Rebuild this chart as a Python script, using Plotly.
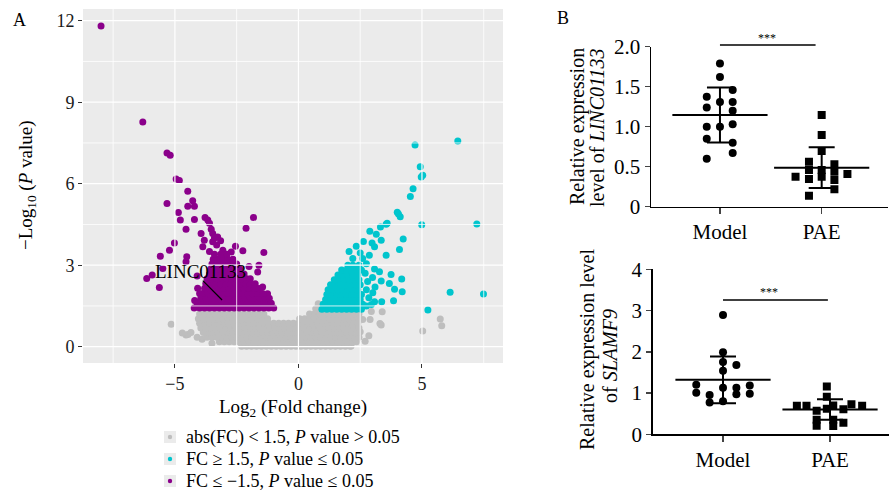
import plotly.graph_objects as go

W, H = 892, 492
FONT = "Liberation Serif"

# ---------------- Volcano data (log2 FC, -log10 P) ----------------
# sparse (individually readable) points
down_sparse = [(-7.99, 11.8), (-6.3, 8.27), (-5.32, 7.13), (-5.19, 7.05), (-4.95, 6.17), (-4.82, 6.12),
               (-4.48, 5.72), (-5.32, 5.27), (-4.28, 5.37), (-4.21, 5.17), (-4.48, 5.17), (-4.86, 4.94),
               (-4.21, 4.68), (-4.78, 4.66), (-3.78, 4.76), (-3.67, 4.66), (-3.6, 4.54), (-4.55, 4.32),
               (-1.82, 4.76), (-2.12, 4.36), (-5.02, 3.82), (-3.53, 4.32), (-3.47, 4.17), (-3.94, 4.17),
               (-3.81, 3.92), (-3.87, 3.68), (-3.47, 3.86), (-3.27, 4.04), (-3.31, 3.74), (-3.06, 3.55),
               (-2.93, 3.37), (-2.72, 3.49), (-5.22, 3.55), (-5.59, 3.33), (-5.49, 2.88), (-6.14, 2.51),
               (-5.92, 2.64), (-5.63, 2.18), (-4.52, 3.31), (-4.55, 3.13), (-2.25, 3.53), (-1.4, 3.47),
               (-4.08, 2.15), (-4.0, 1.96), (-3.4, 4.0), (-3.15, 3.9), (-3.6, 3.5), (-4.1, 2.6),
               (-4.2, 1.7), (-2.55, 3.7), (-1.65, 2.75), (-1.45, 2.2), (-1.25, 1.95), (-1.6, 3.0),
               (-2.0, 2.95)]
down_dense_rows = [
    (1.42, [-4.22, -4.0, -3.8, -3.6, -3.4, -3.2, -3.0, -2.8, -2.6, -2.4, -2.2, -2.0, -1.8, -1.6, -1.4, -1.2, -1.0]),
    (1.6, [-4.1, -3.9, -3.7, -3.5, -3.3, -3.1, -2.9, -2.7, -2.5, -2.3, -2.1, -1.9, -1.7, -1.5, -1.3, -1.1]),
    (1.78, [-3.95, -3.75, -3.55, -3.35, -3.15, -2.95, -2.75, -2.55, -2.35, -2.15, -1.95, -1.75, -1.55, -1.35, -1.18]),
    (1.96, [-3.85, -3.65, -3.45, -3.25, -3.05, -2.85, -2.65, -2.45, -2.25, -2.05, -1.85, -1.65, -1.45]),
    (2.14, [-3.8, -3.6, -3.4, -3.2, -3.0, -2.8, -2.6, -2.4, -2.2, -2.0, -1.8, -1.6]),
    (2.32, [-3.75, -3.55, -3.35, -3.15, -2.95, -2.75, -2.55, -2.35, -2.15, -1.95, -1.75]),
    (2.5, [-3.7, -3.5, -3.3, -3.1, -2.9, -2.7, -2.5, -2.3, -2.1, -1.95]),
    (2.68, [-3.6, -3.4, -3.2, -3.0, -2.8, -2.6, -2.4, -2.2]),
    (2.86, [-3.55, -3.35, -3.15, -2.95, -2.75, -2.55, -2.38]),
    (3.04, [-3.5, -3.3, -3.1, -2.9, -2.7, -2.5]),
    (3.22, [-3.45, -3.25, -3.05, -2.85, -2.65]),
    (3.4, [-3.4, -3.15, -2.9]),
]

up_sparse = [(6.45, 7.57), (4.72, 7.42), (4.93, 6.62), (4.97, 6.25), (5.03, 6.31), (4.64, 5.81),
             (4.53, 5.53), (4.0, 4.95), (4.05, 4.88), (4.12, 4.78), (3.59, 4.54), (3.55, 4.51),
             (3.32, 4.41), (4.99, 4.49), (7.22, 4.52), (2.89, 4.25), (3.15, 4.14), (2.63, 3.87),
             (2.98, 3.82), (3.35, 3.92), (4.24, 3.96), (2.34, 3.7), (3.08, 3.68), (4.09, 3.58),
             (3.55, 3.37), (2.87, 3.37), (3.08, 2.86), (3.28, 2.76), (3.75, 2.66), (4.18, 2.49),
             (3.35, 2.42), (3.68, 2.33), (3.89, 2.11), (4.2, 2.02), (3.01, 1.99), (3.37, 1.65),
             (3.08, 1.65), (3.85, 1.69), (6.14, 2.0), (7.49, 1.94), (5.24, 1.35), (2.6, 3.25),
             (2.75, 3.05), (2.5, 3.45), (2.7, 2.7), (2.8, 2.4), (2.75, 2.1), (2.85, 1.8),
             (2.75, 1.5), (3.0, 2.55), (3.1, 2.2), (2.95, 1.55), (2.2, 3.25), (2.05, 3.5)]
up_dense_rows = [
    (1.38, [0.95, 1.15, 1.35, 1.55, 1.75, 1.95, 2.15, 2.35, 2.55]),
    (1.56, [1.0, 1.2, 1.4, 1.6, 1.8, 2.0, 2.2, 2.4, 2.6]),
    (1.74, [1.1, 1.3, 1.5, 1.7, 1.9, 2.1, 2.3, 2.5]),
    (1.92, [1.15, 1.35, 1.55, 1.75, 1.95, 2.15, 2.35, 2.55]),
    (2.1, [1.2, 1.4, 1.6, 1.8, 2.0, 2.2, 2.4]),
    (2.28, [1.3, 1.5, 1.7, 1.9, 2.1, 2.3, 2.5]),
    (2.46, [1.45, 1.65, 1.85, 2.05, 2.25, 2.45]),
    (2.64, [1.6, 1.8, 2.0, 2.2, 2.4]),
    (2.82, [1.75, 1.95, 2.15, 2.35, 2.55]),
    (3.0, [2.0, 2.2, 2.45]),
]

ns_sparse = [(-5.15, 0.83), (-4.55, 0.43), (-4.47, 0.45), (-3.9, 0.27), (-3.5, 0.13), (-4.1, 0.35),
             (3.39, 1.29), (2.6, 1.0), (2.9, 1.0), (3.35, 0.8), (3.3, 0.85), (2.5, 0.55), (2.85, 0.4),
             (5.03, 0.58), (5.74, 1.02), (5.8, 0.77), (2.13, 0.03), (1.95, 0.25), (2.7, 0.2),
             (2.95, 1.3), (-4.7, 0.5), (-4.35, 0.52)]
ns_dense_rows = [
    (0.02, [-2.3, -2.1, -1.9, -1.7, -1.5, -1.3, -1.1, -0.9, -0.7, -0.5, -0.3, -0.1, 0.1, 0.3, 0.5, 0.7, 0.9,
            1.1, 1.3, 1.5, 1.7, 1.9, 2.1]),
    (0.18, [-3.2, -3.0, -2.8, -2.6, -2.4, -2.2, -2.0, -1.8, -1.6, -1.4, -1.2, -1.0, -0.8, -0.6, -0.4, -0.2,
            0.0, 0.2, 0.4, 0.6, 0.8, 1.0, 1.2, 1.4, 1.6, 1.8, 2.0, 2.2, 2.35]),
    (0.35, [-3.7, -3.5, -3.3, -3.1, -2.9, -2.7, -2.5, -2.3, -2.1, -1.9, -1.7, -1.5, -1.3, -1.1, -0.9, -0.7,
            -0.5, -0.3, -0.1, 0.1, 0.3, 0.5, 0.7, 0.9, 1.1, 1.3, 1.5, 1.7, 1.9, 2.1, 2.3, 2.45]),
    (0.52, [-3.85, -3.65, -3.45, -3.25, -3.05, -2.85, -2.65, -2.45, -2.25, -2.05, -1.85, -1.65, -1.45,
            -1.25, -1.05, -0.85, -0.65, -0.45, -0.25, -0.05, 0.15, 0.35, 0.55, 0.75, 0.95, 1.15, 1.35,
            1.55, 1.75, 1.95, 2.15, 2.4]),
    (0.69, [-3.95, -3.75, -3.55, -3.35, -3.15, -2.95, -2.75, -2.55, -2.35, -2.15, -1.95, -1.75, -1.55,
            -1.35, -1.15, -0.95, -0.75, -0.55, -0.35, -0.15, 0.05, 0.25, 0.45, 0.65, 0.85, 1.05, 1.25,
            1.45, 1.65, 1.85, 2.05, 2.25, 2.45]),
    (0.86, [-4.0, -3.8, -3.6, -3.4, -3.2, -3.0, -2.8, -2.6, -2.4, -2.2, -2.0, -1.8, -1.6, -1.4, -1.2, -1.0,
            -0.8, -0.6, -0.4, -0.2, 0.0, 0.2, 0.4, 0.6, 0.8, 1.0, 1.2, 1.4, 1.6, 1.8, 2.0, 2.2, 2.4]),
    (1.03, [-4.05, -3.85, -3.65, -3.45, -3.25, -3.05, -2.85, -2.65, -2.45, -2.25, -2.05, -1.85, -1.65,
            -1.45, -1.25, 0.05, 0.25, 0.45, 0.65, 0.85, 1.05, 1.25, 1.45, 1.65, 1.85, 2.05, 2.25, 2.45]),
    (1.2, [-4.0, -3.8, -3.6, -3.4, -3.2, -3.0, -2.8, -2.6, -2.4, -2.2, -2.0, -1.8, -1.6, -1.4, 0.45, 0.65,
           0.85, 1.05, 1.25, 1.45, 1.65, 1.85, 2.05, 2.25, 2.45]),
    (1.4, [0.7, 0.9]),
    (1.58, [0.8]),
]
legend_labels = ["abs(FC) < 1.5, <i>P</i> value > 0.05",
                 "FC ≥ 1.5, <i>P</i> value ≤ 0.05",
                 "FC ≤ −1.5, <i>P</i> value ≤ 0.05"]

# ---------------- Panel B data ----------------
groups = ["Model", "PAE"]
linc_model = [1.79, 1.62, 1.46, 1.375, 1.31, 1.31, 1.24, 1.2, 1.03, 1.0, 1.0, 0.85, 0.80, 0.67, 0.60]
linc_model_jitter = [0, 0, 0.125, -0.13, 0, 0.125, -0.13, 0.125, 0.125, -0.13, 0, -0.13, 0.125, 0.125, -0.13]
linc_pae = [1.146, 0.896, 0.696, 0.5625, 0.459, 0.346, 0.375, 0.459, 0.375, 0.53, 0.4375, 0.334, 0.409, 0.217, 0.138]
linc_pae_jitter = [0, 0, 0, -0.125, -0.125, -0.125, -0.257, 0, 0, 0.125, 0.125, 0.125, 0.253, 0.125, -0.125]
linc_mean = [1.146, 0.4875]
linc_sd = [0.344, 0.255]

slam_model = [2.89, 1.99, 1.75, 1.68, 1.54, 1.2, 1.18, 1.13, 1.13, 1.01, 0.98, 0.95, 0.97, 0.77, 0.80]
slam_model_jitter = [0, 0, 0, 0.125, 0, -0.25, 0.25, 0, 0.125, -0.25, 0.25, -0.125, 0.125, -0.125, 0]
slam_pae = [1.16, 0.91, 0.69, 0.69, 0.70, 0.61, 0.73, 0.69, 0.57, 0.62, 0.35, 0.35, 0.21, 0.28, 0.20]
slam_pae_jitter = [-0.03, -0.03, -0.31, -0.22, 0.03, 0.125, 0.2, 0.3, -0.125, -0.03, -0.125, 0.03, -0.125, 0.125, 0.03]
slam_mean = [1.32, 0.60]
slam_sd = [0.565, 0.25]

GREY, CYAN, PURPLE = "#BEBEBE", "#00C5CD", "#8B008B"
COLORS = [GREY, CYAN, PURPLE]


def expand(sparse, rows):
    xs = [p[0] for p in sparse]
    ys = [p[1] for p in sparse]
    for yv, row in rows:
        for xv in row:
            xs.append(xv)
            ys.append(yv)
    return xs, ys


fig = go.Figure()
for name, sparse, rows, col in zip(legend_labels,
                                   [ns_sparse, up_sparse, down_sparse],
                                   [ns_dense_rows, up_dense_rows, down_dense_rows], COLORS):
    xs, ys = expand(sparse, rows)
    fig.add_trace(go.Scatter(x=xs, y=ys, mode="markers", name=name, xaxis="x", yaxis="y",
                             showlegend=False,
                             marker=dict(color=col, size=7, line=dict(width=0))))


def dots(vals, jit, idx, sym, xa, ya):
    fig.add_trace(go.Scatter(x=[idx + j for j in jit], y=vals, mode="markers", showlegend=False,
                             xaxis=xa, yaxis=ya,
                             marker=dict(symbol=sym, color="black", size=8, line=dict(width=0))))


def summary(means, sds, xa, ya):
    fig.add_trace(go.Scatter(x=[0, 1], y=means, mode="markers", showlegend=False, xaxis=xa, yaxis=ya,
                             marker=dict(symbol="line-ew", size=68, color="black",
                                         line=dict(width=2, color="black")),
                             error_y=dict(type="data", array=sds, color="black", thickness=2, width=13)))


dots(linc_model, linc_model_jitter, 0, "circle", "x2", "y2")
dots(linc_pae, linc_pae_jitter, 1, "square", "x2", "y2")
summary(linc_mean, linc_sd, "x2", "y2")
dots(slam_model, slam_model_jitter, 0, "circle", "x3", "y3")
dots(slam_pae, slam_pae_jitter, 1, "square", "x3", "y3")
summary(slam_mean, slam_sd, "x3", "y3")


def dx(p):
    return p / W


def dy(p):
    return 1 - p / H


tickfont = dict(family=FONT, size=18, color="#1a1a1a")
rfont = dict(family=FONT, size=21, color="black")
fig.update_layout(
    width=W, height=H, margin=dict(l=0, r=0, t=0, b=0, autoexpand=False),
    paper_bgcolor="white", plot_bgcolor="white", showlegend=False,
    font=dict(family=FONT, color="black"),
    xaxis=dict(domain=[dx(83), dx(503)], range=[-8.72, 8.28], showgrid=False, zeroline=False,
               tickvals=[-5, 0, 5], ticks="outside", ticklen=4, tickcolor="#333333",
               tickfont=tickfont, showline=False),
    yaxis=dict(domain=[dy(363), dy(9)], range=[-0.6, 12.43], showgrid=False, zeroline=False,
               tickvals=[0, 3, 6, 9, 12], ticks="outside", ticklen=4, tickcolor="#333333",
               tickfont=tickfont, showline=False),
    xaxis2=dict(domain=[dx(651), dx(888)], range=[-0.678, 1.652], anchor="y2",
                tickvals=[0, 1], ticktext=groups, ticks="outside", ticklen=6, tickwidth=1.5,
                showline=True, linecolor="black", linewidth=1.5, showgrid=False, zeroline=False,
                tickfont=rfont),
    yaxis2=dict(domain=[dy(206.7), dy(46.7)], range=[0, 2], anchor="x2",
                tickvals=[0, 0.5, 1, 1.5, 2], ticktext=["0", "0.5", "1.0", "1.5", "2.0"],
                ticks="outside", ticklen=5, tickwidth=1.5,
                showline=True, linecolor="black", linewidth=1.5, showgrid=False, zeroline=False,
                tickfont=rfont),
    xaxis3=dict(domain=[dx(652.7), dx(889)], range=[-0.657, 1.551], anchor="y3",
                tickvals=[0, 1], ticktext=groups, ticks="outside", ticklen=6, tickwidth=1.5,
                showline=True, linecolor="black", linewidth=1.5, showgrid=False, zeroline=False,
                tickfont=rfont),
    yaxis3=dict(domain=[dy(434.3), dy(269.3)], range=[0, 4], anchor="x3",
                tickvals=[0, 1, 2, 3, 4], ticks="outside", ticklen=5, tickwidth=1.5,
                showline=True, linecolor="black", linewidth=1.5, showgrid=False, zeroline=False,
                tickfont=rfont),
)

shapes = []
# volcano panel background
shapes.append(dict(type="rect", xref="x domain", yref="y domain", x0=0, x1=1, y0=0, y1=1,
                   fillcolor="#EBEBEB", line=dict(width=0), layer="below"))
# grid lines (drawn above the points as in the reference)
for v in [-7.5, -5, -2.5, 0, 2.5, 5, 7.5]:
    shapes.append(dict(type="line", xref="x", yref="y domain", x0=v, x1=v, y0=0, y1=1,
                       line=dict(color="white", width=1.2 if v % 5 == 0 else 0.8), layer="above"))
for v in [0, 1.5, 3, 4.5, 6, 7.5, 9, 10.5, 12]:
    shapes.append(dict(type="line", xref="x domain", yref="y", x0=0, x1=1, y0=v, y1=v,
                       line=dict(color="white", width=1.2 if v % 3 == 0 else 0.8), layer="above"))
# LINC01133 label connector
shapes.append(dict(type="line", xref="x", yref="y", x0=-3.87, y0=2.43, x1=-3.09, y1=1.72,
                   line=dict(color="black", width=1.2), layer="above"))
# significance bars
shapes.append(dict(type="line", xref="x2", yref="paper", x0=0, x1=0.94, y0=dy(45), y1=dy(45),
                   line=dict(color="black", width=1.3)))
shapes.append(dict(type="line", xref="x3", yref="paper", x0=0, x1=0.98, y0=dy(300), y1=dy(300),
                   line=dict(color="black", width=1.3)))

ann = []


def text(x, y, s, size, angle=0, xref="paper", yref="paper", xanchor="center"):
    ann.append(dict(x=x, y=y, xref=xref, yref=yref, text=s, showarrow=False, textangle=angle,
                    xanchor=xanchor, yanchor="middle", font=dict(family=FONT, size=size, color="black")))


# manual legend (key boxes, dots and labels)
for i, (lab, col) in enumerate(zip(legend_labels, COLORS)):
    cy = 437 + 22 * i
    shapes.append(dict(type="rect", xref="paper", yref="paper", x0=dx(164), x1=dx(176),
                       y0=dy(cy + 6), y1=dy(cy - 6), fillcolor="#EBEBEB", line=dict(width=0)))
    shapes.append(dict(type="circle", xref="paper", yref="paper", x0=dx(167.8), x1=dx(172.2),
                       y0=dy(cy + 2.2), y1=dy(cy - 2.2), fillcolor=col, line=dict(width=0)))
    text(dx(184), dy(cy), lab, 18, xanchor="left")

fig.update_layout(shapes=shapes)

text(dx(19), dy(20), "A", 18)
text(dx(563), dy(18), "B", 18)
text(dx(293), dy(408), "Log<sub>2</sub> (Fold change)", 19)
text(dx(27), dy(185), "−Log<sub>10</sub> (<i>P</i> value)", 19, angle=-90)
text(-3.98, 2.76, "LINC01133", 19, xref="x", yref="y")
text(dx(578), dy(127), "Relative expression", 20, angle=-90)
text(dx(597), dy(128), "level of <i>LINC01133</i>", 20, angle=-90)
text(dx(587), dy(350), "Relative expression level", 20, angle=-90)
text(dx(610), dy(356), "of <i>SLAMF9</i>", 20, angle=-90)
text(dx(767), dy(38), "***", 12)
text(dx(769), dy(292), "***", 12)
fig.update_layout(annotations=ann)

fig.write_html("out.html", config={"displayModeBar": False, "staticPlot": True},
               post_script="document.body.style.margin='0';document.body.style.padding='0';"
                           "document.body.style.overflow='hidden';")
